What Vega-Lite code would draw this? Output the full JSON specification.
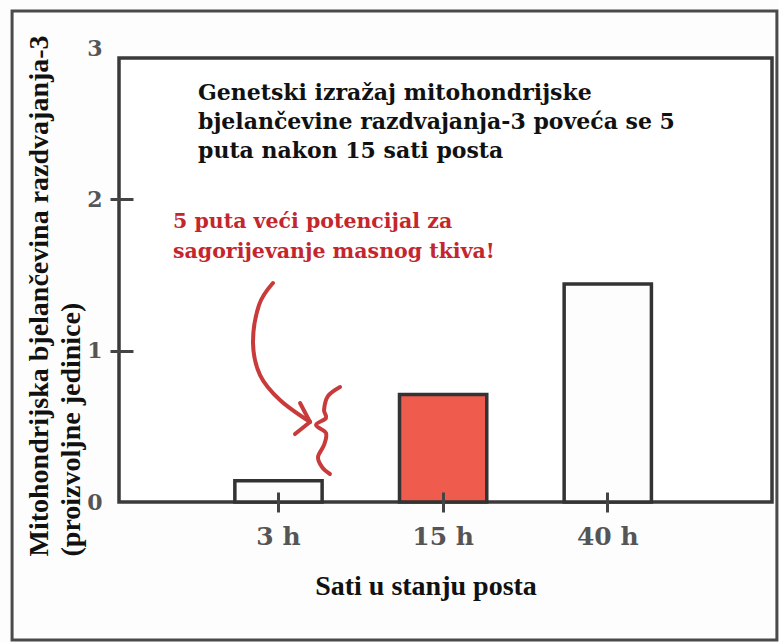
{
  "$schema": "https://vega.github.io/schema/vega-lite/v6.json",
  "width": 653,
  "height": 454,
  "autosize": {"type": "none"},
  "padding": {"left": 119, "top": 48, "right": 7, "bottom": 140},
  "background": "#fdfdfd",
  "config": {"view": {"stroke": null}},
  "datasets": {
    "bars": [
      {"time": "3 h", "value": 0.14},
      {"time": "15 h", "value": 0.71},
      {"time": "40 h", "value": 1.44}
    ],
    "strokes": [
      {"part": "arrow", "i": 0, "x": 0.943, "y": 1.447},
      {"part": "arrow", "i": 1, "x": 0.858, "y": 1.302},
      {"part": "arrow", "i": 2, "x": 0.821, "y": 1.051},
      {"part": "arrow", "i": 3, "x": 0.864, "y": 0.839},
      {"part": "arrow", "i": 4, "x": 0.986, "y": 0.674},
      {"part": "arrow", "i": 5, "x": 1.17, "y": 0.529},
      {"part": "wing1", "i": 0, "x": 1.109, "y": 0.654},
      {"part": "wing1", "i": 1, "x": 1.17, "y": 0.529},
      {"part": "wing2", "i": 0, "x": 1.078, "y": 0.449},
      {"part": "wing2", "i": 1, "x": 1.17, "y": 0.529},
      {"part": "squiggle", "i": 0, "x": 1.354, "y": 0.76},
      {"part": "squiggle", "i": 1, "x": 1.28, "y": 0.7},
      {"part": "squiggle", "i": 2, "x": 1.256, "y": 0.608},
      {"part": "squiggle", "i": 3, "x": 1.268, "y": 0.555},
      {"part": "squiggle", "i": 4, "x": 1.207, "y": 0.509},
      {"part": "squiggle", "i": 5, "x": 1.268, "y": 0.456},
      {"part": "squiggle", "i": 6, "x": 1.256, "y": 0.377},
      {"part": "squiggle", "i": 7, "x": 1.219, "y": 0.297},
      {"part": "squiggle", "i": 8, "x": 1.244, "y": 0.231},
      {"part": "squiggle", "i": 9, "x": 1.292, "y": 0.185}
    ]
  },
  "resolve": {
    "scale": {"x": "independent", "y": "independent"},
    "axis": {"x": "independent", "y": "independent"}
  },
  "layer": [
    {
      "data": {"values": [{}]},
      "mark": {"type": "rect", "fill": null, "stroke": "#4a4a4a", "strokeWidth": 3},
      "encoding": {
        "x": {"datum": -0.655, "type": "quantitative", "scale": {"domain": [0, 4], "nice": false, "zero": false}, "axis": null},
        "x2": {"datum": 4.03},
        "y": {"datum": -0.912, "type": "quantitative", "scale": {"domain": [0, 3], "nice": false, "zero": false}, "axis": null},
        "y2": {"datum": 3.245}
      }
    },
    {
      "data": {"values": [{}]},
      "mark": {"type": "rect", "fill": "#ffffff", "stroke": "#3a3a3a", "strokeWidth": 3.5},
      "encoding": {
        "x": {"datum": 0, "type": "quantitative", "scale": {"domain": [0, 4], "nice": false, "zero": false}, "axis": null},
        "x2": {"datum": 4},
        "y": {"datum": 0, "type": "quantitative", "scale": {"domain": [0, 3], "nice": false, "zero": false}, "axis": null},
        "y2": {"datum": 2.934}
      }
    },
    {
      "data": {"name": "bars"},
      "mark": {"type": "bar", "stroke": "#333333", "strokeWidth": 3.5},
      "encoding": {
        "x": {
          "field": "time",
          "type": "nominal",
          "sort": null,
          "scale": {"domain": ["3 h", "15 h", "40 h"], "paddingInner": 0.47, "paddingOuter": 0.718, "align": 0.49},
          "axis": {
            "labelAngle": 0,
            "domain": false,
            "offset": -10,
            "tickSize": 20,
            "tickWidth": 3,
            "tickColor": "#444444",
            "labelFont": "DejaVu Serif",
            "labelFontWeight": "bold",
            "labelFontSize": 25,
            "labelColor": "#555555",
            "labelPadding": 12,
            "title": "Sati u stanju posta",
            "titleFont": "Liberation Serif",
            "titleFontSize": 28,
            "titleFontWeight": "bold",
            "titleColor": "#111111",
            "titleAlign": "center",
            "titleBaseline": "alphabetic",
            "titleX": 306.5,
            "titleY": 102,
            "zindex": 1
          }
        },
        "y": {
          "field": "value",
          "type": "quantitative",
          "scale": {"domain": [0, 3], "nice": false, "zero": true},
          "axis": {
            "values": [0, 1, 2, 3],
            "domain": false,
            "grid": false,
            "offset": -14,
            "tickSize": 23,
            "tickWidth": 3,
            "tickColor": "#444444",
            "tickOpacity": {"condition": {"test": "datum.value == 1 || datum.value == 2", "value": 1}, "value": 0},
            "labelFont": "DejaVu Serif",
            "labelFontWeight": "bold",
            "labelFontSize": 22,
            "labelColor": "#555555",
            "labelPadding": 8,
            "title": ["Mitohondrijska bjelančevina razdvajanja-3", "(proizvoljne jedinice)"],
            "titleFont": "Liberation Serif",
            "titleFontSize": 28,
            "titleFontWeight": "bold",
            "titleColor": "#111111",
            "titleAngle": -90,
            "titleAlign": "left",
            "titleBaseline": "alphabetic",
            "titleLineHeight": 32,
            "titleX": -86,
            "titleY": 508,
            "zindex": 1
          }
        },
        "fill": {
          "field": "time",
          "type": "nominal",
          "scale": {"domain": ["3 h", "15 h", "40 h"], "range": ["#fdfdfd", "#ef5b4c", "#fdfdfd"]},
          "legend": null
        }
      }
    },
    {
      "data": {"name": "strokes"},
      "mark": {"type": "line", "color": "#c93a3a", "strokeWidth": 4, "strokeCap": "round", "strokeJoin": "round", "interpolate": "cardinal"},
      "encoding": {
        "x": {"field": "x", "type": "quantitative", "scale": {"domain": [0, 4], "nice": false, "zero": false}, "axis": null},
        "y": {"field": "y", "type": "quantitative", "scale": {"domain": [0, 3], "nice": false, "zero": false}, "axis": null},
        "detail": {"field": "part"},
        "order": {"field": "i"}
      }
    },
    {
      "data": {"values": [{}]},
      "mark": {"type": "text", "align": "left", "baseline": "alphabetic", "font": "DejaVu Serif", "fontWeight": "bold", "fontSize": 22, "lineHeight": 29, "color": "#111111"},
      "encoding": {
        "x": {"datum": 0.484, "type": "quantitative", "scale": {"domain": [0, 4], "nice": false, "zero": false}, "axis": null},
        "y": {"datum": 2.656, "type": "quantitative", "scale": {"domain": [0, 3], "nice": false, "zero": false}, "axis": null},
        "text": {"value": ["Genetski izražaj mitohondrijske", "bjelančevine razdvajanja-3 poveća se 5", "puta nakon 15 sati posta"]}
      }
    },
    {
      "data": {"values": [{}]},
      "mark": {"type": "text", "align": "left", "baseline": "alphabetic", "font": "DejaVu Serif", "fontWeight": "bold", "fontSize": 20.5, "lineHeight": 30, "color": "#c4262e"},
      "encoding": {
        "x": {"datum": 0.331, "type": "quantitative", "scale": {"domain": [0, 4], "nice": false, "zero": false}, "axis": null},
        "y": {"datum": 1.811, "type": "quantitative", "scale": {"domain": [0, 3], "nice": false, "zero": false}, "axis": null},
        "text": {"value": ["5 puta veći potencijal za", "sagorijevanje masnog tkiva!"]}
      }
    }
  ]
}
